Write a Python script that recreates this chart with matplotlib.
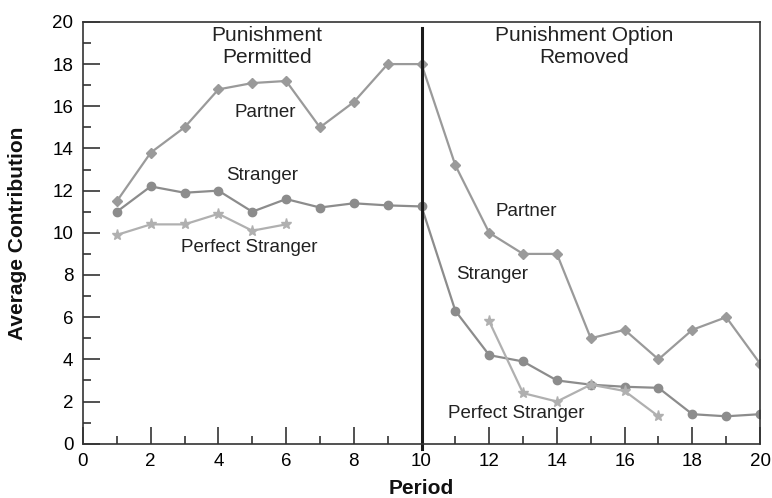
import matplotlib.pyplot as plt
from matplotlib.ticker import MultipleLocator

plt.rcParams['font.family'] = ['Liberation Sans', 'DejaVu Sans']

# data
periods = list(range(1, 21))
partner = [11.5, 13.8, 15.0, 16.8, 17.1, 17.2, 15.0, 16.2, 18.0, 18.0,
           13.2, 10.0, 9.0, 9.0, 5.0, 5.4, 4.0, 5.4, 6.0, 3.8]
stranger = [11.0, 12.2, 11.9, 12.0, 11.0, 11.6, 11.2, 11.4, 11.3, 11.25,
            6.3, 4.2, 3.9, 3.0, 2.8, 2.7, 2.65, 1.4, 1.3, 1.4]
perfect_periods_a = [1, 2, 3, 4, 5, 6]
perfect_a = [9.9, 10.4, 10.4, 10.9, 10.1, 10.4]
perfect_periods_b = [12, 13, 14, 15, 16, 17]
perfect_b = [5.8, 2.4, 2.0, 2.8, 2.5, 1.3]
switch_period = 10

fig = plt.figure(figsize=(7.72, 4.98), dpi=100)
ax = fig.add_axes([0.1075, 0.109, 0.877, 0.847])

c_partner = '#9a9a9a'
c_stranger = '#8c8c8c'
c_perfect = '#b0b0b0'

ax.plot(periods, partner, color=c_partner, marker='D', markersize=5, linewidth=1.6)
ax.plot(periods, stranger, color=c_stranger, marker='o', markersize=6, linewidth=1.6)
ax.plot(perfect_periods_a, perfect_a, color=c_perfect, marker='*', markersize=8, linewidth=1.6)
ax.plot(perfect_periods_b, perfect_b, color=c_perfect, marker='*', markersize=8, linewidth=1.6)

ax.axvline(switch_period, ymin=-0.012, ymax=0.985, color='#1a1a1a', linewidth=2.2, clip_on=False)

ax.set_xlim(0, 20)
ax.set_ylim(0, 20)
ax.xaxis.set_major_locator(MultipleLocator(2))
ax.xaxis.set_minor_locator(MultipleLocator(1))
ax.yaxis.set_major_locator(MultipleLocator(2))
ax.yaxis.set_minor_locator(MultipleLocator(1))
ax.tick_params(which='major', direction='in', length=12, width=1.2, color='#333333',
               labelsize=13.5, pad=7)
ax.tick_params(which='minor', direction='in', length=5.5, width=1.2, color='#333333')
for s in ax.spines.values():
    s.set_color('#333333')
    s.set_linewidth(1.2)

ax.set_xlabel('Period', fontsize=15, fontweight='bold', color='#111111')
ax.set_ylabel('Average Contribution', fontsize=15, fontweight='bold', color='#111111')
ax.xaxis.set_label_coords(0.5, -0.105)
ax.yaxis.set_label_coords(-0.096, 0.5)
ax.xaxis.label.set_va('center')
ax.yaxis.label.set_va('center')

tcol = '#222222'
ax.text(5.44, 19.8, 'Punishment\nPermitted', ha='center', va='top', fontsize=15,
        color=tcol, linespacing=1.2)
ax.text(14.8, 19.8, 'Punishment Option\nRemoved', ha='center', va='top', fontsize=15,
        color=tcol, linespacing=1.2)
ax.text(5.38, 15.7, 'Partner', ha='center', va='center', fontsize=13.5, color=tcol)
ax.text(5.3, 12.7, 'Stranger', ha='center', va='center', fontsize=13.5, color=tcol)
ax.text(4.9, 9.3, 'Perfect Stranger', ha='center', va='center', fontsize=13.5, color=tcol)
ax.text(13.1, 11.0, 'Partner', ha='center', va='center', fontsize=13.5, color=tcol)
ax.text(12.1, 8.0, 'Stranger', ha='center', va='center', fontsize=13.5, color=tcol)
ax.text(12.8, 1.45, 'Perfect Stranger', ha='center', va='center', fontsize=13.5, color=tcol)

fig.savefig('out.png', dpi=100)
